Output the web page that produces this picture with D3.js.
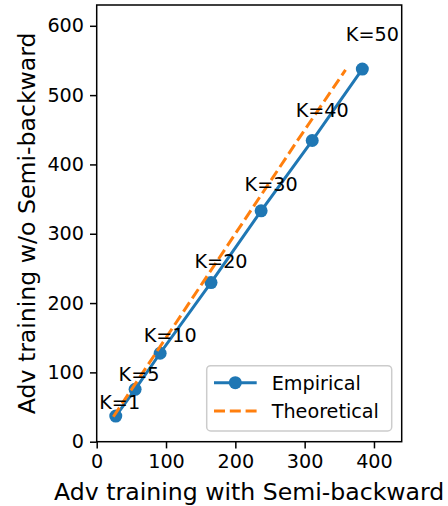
<!DOCTYPE html>
<html>
<head>
<meta charset="utf-8">
<script src="https://cdn.jsdelivr.net/npm/d3@7"></script>
<style>
  body { margin: 0; background: #fff; }
  text { font-family: "DejaVu Sans", sans-serif; fill: #000; }
</style>
</head>
<body>
<svg id="root" width="448" height="506"></svg>
<script>
//Chart data
const kLabels = ["K=1", "K=5", "K=10", "K=20", "K=30", "K=40", "K=50"];
const empiricalX = [27.5, 55.4, 91.5, 164.9, 237.2, 310.9, 383.2];
const empiricalY = [37, 75.6, 127.6, 229.5, 333, 434.5, 537.5];
const theoreticalX = [24, 50, 85, 153, 222, 290, 359];
const theoreticalY = [36, 75, 127.5, 229.5, 333, 435, 536.5];
const xTicks = [0, 100, 200, 300, 400];
const yTicks = [0, 100, 200, 300, 400, 500, 600];

const svg = d3.select("#root");
const margin = { left: 96.7, right: 401.7, top: 5, bottom: 441.7 };

const x = d3.scaleLinear().domain([0, 440]).range([margin.left, margin.right]);
const y = d3.scaleLinear().domain([0, 630]).range([margin.bottom, margin.top]);

//Axes
const xAxis = svg.append("g")
    .attr("transform", `translate(0, ${margin.bottom})`)
    .call(d3.axisBottom(x).tickValues(xTicks).tickSize(6.7).tickPadding(6));
const yAxis = svg.append("g")
    .attr("transform", `translate(${margin.left}, 0)`)
    .call(d3.axisLeft(y).tickValues(yTicks).tickSize(6.7).tickPadding(6));

svg.selectAll(".domain").remove();
svg.selectAll(".tick line").attr("stroke", "#000").attr("stroke-width", 1.5);
svg.selectAll(".tick text")
    .style("font-family", "DejaVu Sans")
    .style("font-size", "19.2px")
    .attr("fill", "#000");

//Frame
svg.append("rect")
    .attr("x", margin.left)
    .attr("y", margin.top)
    .attr("width", margin.right - margin.left)
    .attr("height", margin.bottom - margin.top)
    .attr("fill", "none")
    .attr("stroke", "#000")
    .attr("stroke-width", 1.5);

const line = d3.line().x(d => x(d[0])).y(d => y(d[1]));

//Empirical line with markers
const empirical = empiricalX.map((v, i) => [v, empiricalY[i]]);
svg.append("path")
    .datum(empirical)
    .attr("d", line)
    .attr("fill", "none")
    .attr("stroke", "#1f77b4")
    .attr("stroke-width", 3);
svg.append("g")
    .selectAll("circle")
    .data(empirical)
    .enter()
    .append("circle")
    .attr("cx", d => x(d[0]))
    .attr("cy", d => y(d[1]))
    .attr("r", 6.5)
    .attr("fill", "#1f77b4");

//Theoretical dashed line
const theoretical = theoreticalX.map((v, i) => [v, theoreticalY[i]]);
svg.append("path")
    .datum(theoretical)
    .attr("d", line)
    .attr("fill", "none")
    .attr("stroke", "#ff7f0e")
    .attr("stroke-width", 3)
    .attr("stroke-dasharray", "11,4.8");

//K annotations
svg.append("g")
    .selectAll("text")
    .data(empirical)
    .enter()
    .append("text")
    .attr("x", d => x(d[0]) - 16.5)
    .attr("y", d => y(d[1] * 1.06 + 8))
    .style("font-size", "19.2px")
    .text((d, i) => kLabels[i]);

//Axis labels
svg.append("text")
    .attr("x", (margin.left + margin.right) / 2)
    .attr("y", 500)
    .attr("text-anchor", "middle")
    .style("font-size", "23.6px")
    .text("Adv training with Semi-backward");
svg.append("text")
    .attr("transform", `translate(35, ${(margin.top + margin.bottom) / 2}) rotate(-90)`)
    .attr("text-anchor", "middle")
    .style("font-size", "23.6px")
    .text("Adv training w/o Semi-backward");

//Legend
const legend = svg.append("g").attr("transform", "translate(206.7, 365.7)");
legend.append("rect")
    .attr("width", 185)
    .attr("height", 65.3)
    .attr("rx", 4)
    .attr("fill", "#fff")
    .attr("fill-opacity", 0.8)
    .attr("stroke", "#ccc")
    .attr("stroke-width", 1.5);
legend.append("line")
    .attr("x1", 7.3).attr("x2", 50)
    .attr("y1", 17).attr("y2", 17)
    .attr("stroke", "#1f77b4").attr("stroke-width", 3);
legend.append("circle")
    .attr("cx", 28.6).attr("cy", 17).attr("r", 6.5)
    .attr("fill", "#1f77b4");
legend.append("line")
    .attr("x1", 7.3).attr("x2", 50)
    .attr("y1", 45.3).attr("y2", 45.3)
    .attr("stroke", "#ff7f0e").attr("stroke-width", 3)
    .attr("stroke-dasharray", "11,4.8");
legend.append("text")
    .attr("x", 65).attr("y", 24)
    .style("font-size", "19.2px")
    .text("Empirical");
legend.append("text")
    .attr("x", 65).attr("y", 52.3)
    .style("font-size", "19.2px")
    .text("Theoretical");
</script>
</body>
</html>
